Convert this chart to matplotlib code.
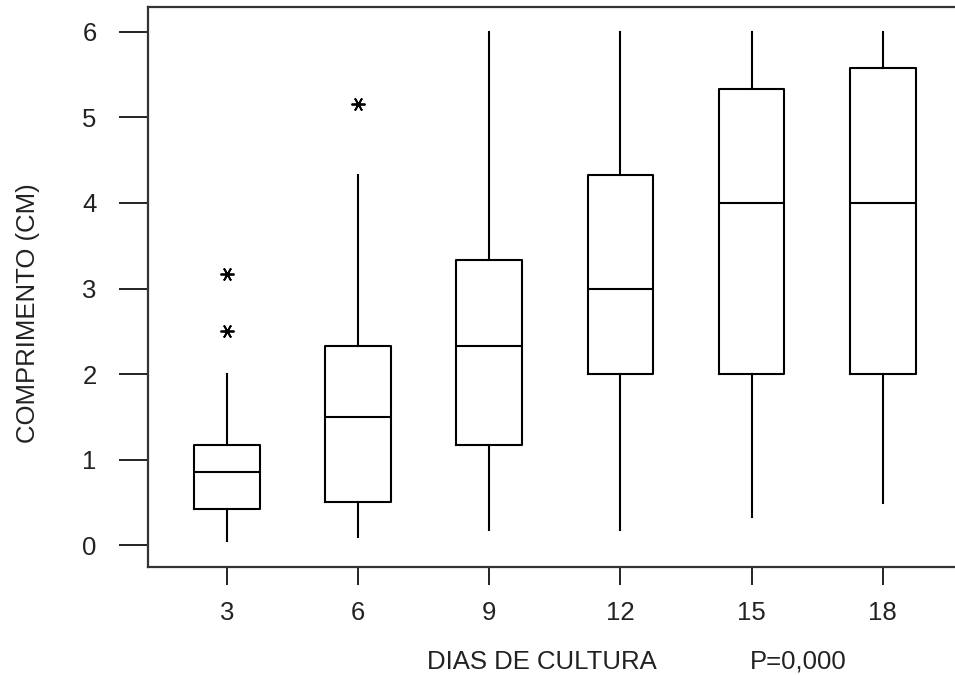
import matplotlib
matplotlib.use("Agg")
import matplotlib.pyplot as plt

# ---- data ----
days = [3, 6, 9, 12, 15, 18]
q1 = [0.42, 0.50, 1.17, 2.00, 2.00, 2.00]
med = [0.85, 1.50, 2.33, 3.00, 4.00, 4.00]
q3 = [1.17, 2.33, 3.33, 4.33, 5.33, 5.58]
whislo = [0.05, 0.09, 0.17, 0.17, 0.33, 0.49]
whishi = [2.00, 4.33, 6.00, 6.00, 6.00, 6.00]
outliers = [[2.50, 3.17], [5.16], [], [], [], []]
y_ticks = [0, 1, 2, 3, 4, 5, 6]
x_label = "DIAS DE CULTURA"
p_text = "P=0,000"
y_label = "COMPRIMENTO (CM)"

plt.rcParams['font.family'] = ['Liberation Sans', 'DejaVu Sans']
FS = 18.5

fig = plt.figure(figsize=(9.55, 6.75), dpi=100)
ax = fig.add_axes([148/955, 1-566.5/675, 1-148/955, (566.5-7)/675])

stats = []
for i in range(len(days)):
    stats.append(dict(med=med[i], q1=q1[i], q3=q3[i], whislo=whislo[i],
                      whishi=whishi[i], fliers=outliers[i], label=str(days[i])))

lw = 1.5
ax.bxp(stats, positions=days, widths=1.5, showcaps=False, patch_artist=False,
       boxprops=dict(color='black', linewidth=lw),
       whiskerprops=dict(color='black', linewidth=lw),
       medianprops=dict(color='black', linewidth=lw),
       flierprops=dict(marker=(6, 2, 90), markersize=10, markeredgecolor='black',
                       markeredgewidth=1.3, linestyle='none'))

ax.set_xlim(1.20, 19.65)
ax.set_ylim(-0.251, 6.292)
ax.set_yticks(y_ticks)
ax.set_yticklabels([str(v) for v in y_ticks])
ax.set_xticks(days)
ax.set_xticklabels([str(d) for d in days])

for s in ['left', 'top', 'bottom']:
    ax.spines[s].set_linewidth(1.6)
    ax.spines[s].set_color('#333333')
ax.spines['right'].set_visible(False)

ax.tick_params(axis='y', length=21, width=1.4, pad=16, labelsize=FS, colors='#222222')
ax.tick_params(axis='x', length=13, width=1.4, pad=12, labelsize=FS, colors='#222222')

fig.text(28/955, 1-313/675, y_label, rotation=90, ha='center', va='center', fontsize=FS, color='#222222')
fig.text(542/955, 1-662/675, x_label, ha='center', va='center', fontsize=FS, color='#222222')
fig.text(798/955, 1-662/675, p_text, ha='center', va='center', fontsize=FS, color='#222222')

fig.savefig("out.png", dpi=100)
